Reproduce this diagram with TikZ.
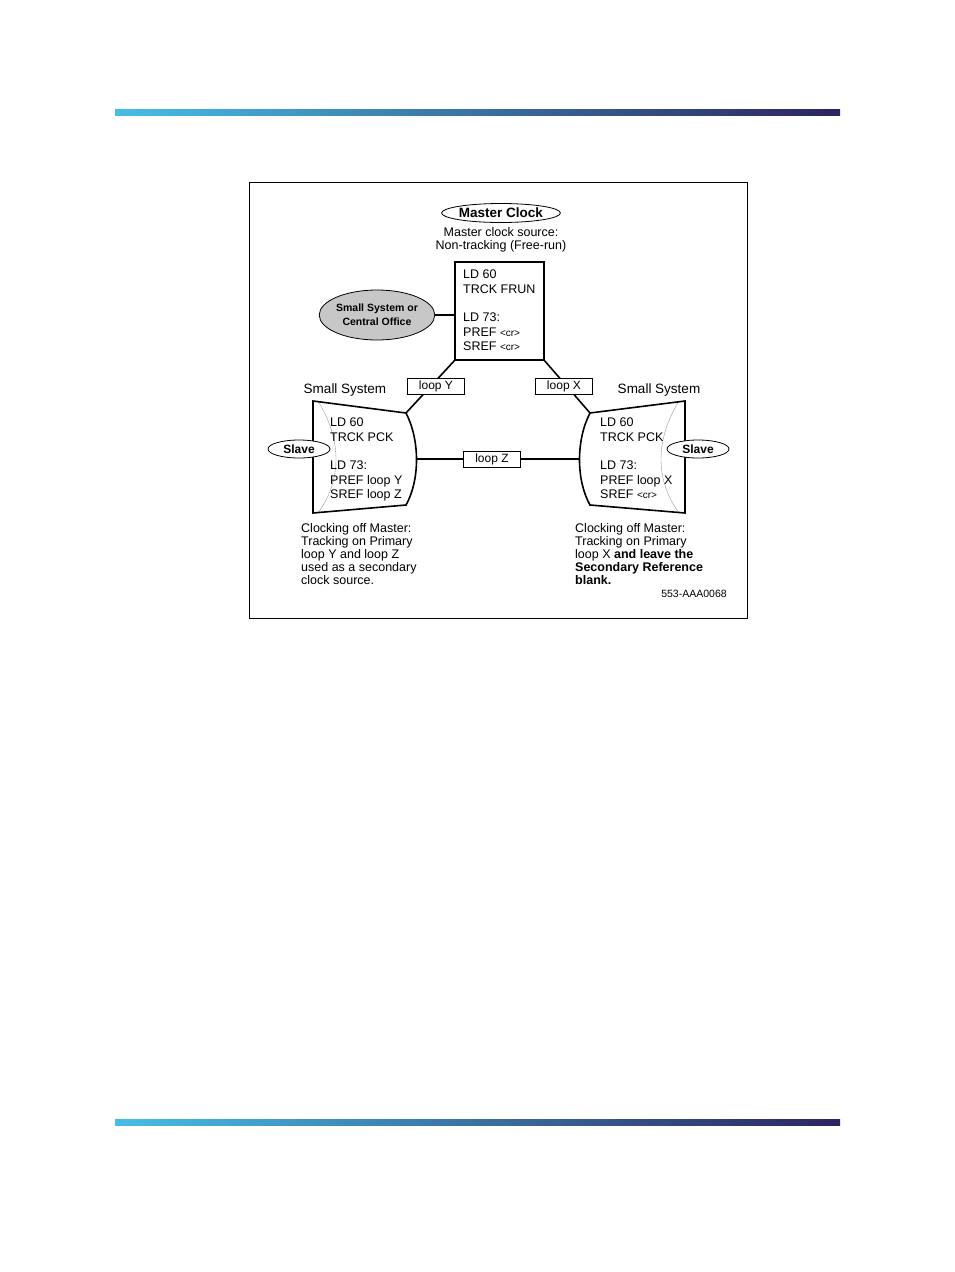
\documentclass[tikz,border=0pt]{standalone}
\usepackage{fontspec}
\setmainfont{Liberation Sans}
\usetikzlibrary{shapes.geometric}
\definecolor{barcyan}{RGB}{70,190,230}
\definecolor{barnavy}{RGB}{45,35,95}
\newcommand{\crtag}{{\fontsize{10}{11}\selectfont<cr>}}
\tikzset{
  txt/.style={font=\fontsize{12.5}{14.4}\selectfont, inner sep=0pt},
  looplbl/.style={draw, line width=0.8pt, minimum width=57pt, minimum height=16pt, inner sep=0pt, font=\fontsize{12}{13}\selectfont, fill=white},
  tag/.style={draw, ellipse, line width=0.8pt, inner sep=0pt, font=\bfseries\fontsize{12}{13}\selectfont, fill=white},
  link/.style={line width=1.6pt}
}
\begin{document}
\begin{tikzpicture}[x=1pt,y=-1pt]
\useasboundingbox (0,0) rectangle (954,1272);
%bars
\shade[left color=barcyan, right color=barnavy] (115,109) rectangle (840,115);
\shade[left color=barcyan, right color=barnavy] (115,1119) rectangle (840,1125);
%frame
\draw[line width=0.6pt] (249,182) rectangle (747,618);

%master
\node[tag, minimum width=118pt, minimum height=19pt, font=\bfseries\fontsize{13.5}{15}\selectfont] (master) at (501,213) {Master Clock};
\node[txt, align=center, font=\fontsize{12.5}{13.5}\selectfont] (msrc) at (501,240) {Master clock source:\\Non-tracking (Free-run)};
\draw[link] (455,262) rectangle (544,360);
\coordinate (mbl) at (455,360);
\coordinate (mbr) at (544,360);
\coordinate (mml) at (455,315);
\node[txt, anchor=north west, align=left] (mtext) at (463,270) {LD 60\\TRCK FRUN\\[14pt]LD 73:\\PREF \crtag\\SREF \crtag};
\node[tag, fill=black!22, minimum width=100pt, minimum height=50pt, font=\bfseries\fontsize{10.5}{14}\selectfont, align=center] (co) at (377,315) {Small System or\\Central Office};
\draw[link] (co.east) -- (mml);

%slave shapes
\coordinate (ltr) at (406,413);
\coordinate (lbr) at (406,505);
\coordinate (rtl) at (590,413);
\coordinate (rbl) at (590,505);
\draw[line width=0.4pt, black!40] (318,401) .. controls (342,440) and (342,480) .. (318,513);
\draw[line width=0.4pt, black!40] (679,401) .. controls (655,440) and (655,480) .. (679,513);
\draw[link] (313,401) -- (ltr) .. controls (420,440) and (420,480) .. (lbr) -- (313,513) -- cycle;
\draw[link] (685,401) -- (rtl) .. controls (576,440) and (576,480) .. (rbl) -- (685,513) -- cycle;
\coordinate (lmid) at (417,459);
\coordinate (rmid) at (580,459);

%links
\draw[link] (mbl) -- (ltr);
\draw[link] (mbr) -- (rtl);
\draw[link] (lmid) -- (rmid);
\node[looplbl] (ly) at (436,386) {loop Y};
\node[looplbl] (lx) at (564,386) {loop X};
\node[looplbl] (lz) at (492,459) {loop Z};

\node[txt] (lsys) at (345,390) {\fontsize{13.5}{14}\selectfont Small System};
\node[txt] (rsys) at (659,390) {\fontsize{13.5}{14}\selectfont Small System};
\node[txt, anchor=north west, align=left] (ltext) at (330,418) {LD 60\\TRCK PCK\\[14pt]LD 73:\\PREF loop Y\\SREF loop Z};
\node[txt, anchor=north west, align=left] (rtext) at (600,418) {LD 60\\TRCK PCK\\[14pt]LD 73:\\PREF loop X\\SREF \crtag};
\node[tag, minimum width=62pt, minimum height=18pt] (lslave) at (299,449) {Slave};
\node[tag, minimum width=62pt, minimum height=18pt] (rslave) at (698,449) {Slave};

%notes
\node[txt, anchor=north west, align=left, font=\fontsize{12.5}{13}\selectfont] (lnote) at (301,523) {Clocking off Master:\\Tracking on Primary\\loop Y and loop Z\\used as a secondary\\clock source.};
\node[txt, anchor=north west, align=left, font=\fontsize{12.5}{13}\selectfont] (rnote) at (575,523) {Clocking off Master:\\Tracking on Primary\\loop X \textbf{and leave the}\\\textbf{Secondary Reference}\\\textbf{blank.}};
\node[txt, font=\fontsize{10.5}{11}\selectfont] (code) at (694,594) {553-AAA0068};
\end{tikzpicture}
\end{document}
